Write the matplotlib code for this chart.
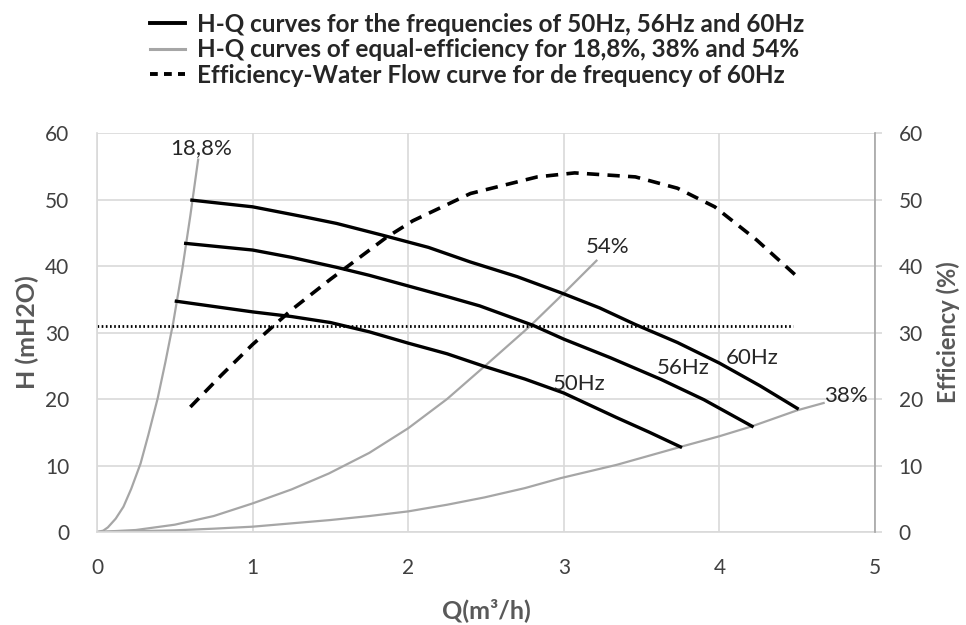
import matplotlib.pyplot as plt
from matplotlib.lines import Line2D

# H-Q curves (black) for the three frequencies
q_50 = [0.51, 1.0, 1.25, 1.5, 1.75, 2.0, 2.25, 2.49, 2.75, 3.0, 3.34, 3.55, 3.75]
h_50 = [34.7, 33.1, 32.4, 31.5, 30.1, 28.4, 26.8, 24.9, 23.0, 20.9, 17.2, 15.0, 12.8]
q_56 = [0.57, 1.0, 1.25, 1.54, 1.75, 2.0, 2.25, 2.46, 2.8, 3.0, 3.3, 3.62, 3.9, 4.21]
h_56 = [43.4, 42.4, 41.3, 39.8, 38.6, 37.0, 35.4, 34.0, 31.1, 29.0, 26.2, 23.0, 19.9, 15.9]
q_60 = [0.61, 1.0, 1.33, 1.54, 1.84, 2.13, 2.4, 2.7, 2.99, 3.23, 3.46, 3.73, 4.0, 4.26, 4.5]
h_60 = [49.9, 48.9, 47.4, 46.4, 44.6, 42.8, 40.6, 38.4, 35.9, 33.7, 31.2, 28.5, 25.4, 22.0, 18.6]

# equal-efficiency curves (grey)
q_188 = [0, 0.04, 0.07, 0.12, 0.17, 0.22, 0.28, 0.33, 0.39, 0.44, 0.49, 0.55, 0.6, 0.65]
h_188 = [0, 0.2, 0.7, 2.0, 3.8, 6.5, 10.3, 14.6, 20.1, 25.6, 31.5, 39.8, 47.6, 56.0]
q_54 = [0, 0.25, 0.5, 0.75, 1.0, 1.25, 1.49, 1.75, 2.0, 2.25, 2.49, 2.78, 3.0, 3.21]
h_54 = [0, 0.3, 1.1, 2.4, 4.3, 6.4, 8.8, 11.9, 15.6, 20.0, 24.9, 30.9, 35.9, 40.8]
q_38 = [0, 0.5, 0.75, 1.0, 1.25, 1.5, 1.75, 2.0, 2.25, 2.49, 2.75, 2.98, 3.34, 3.75, 4.0, 4.21, 4.5, 4.67]
h_38 = [0, 0.25, 0.5, 0.8, 1.3, 1.8, 2.4, 3.1, 4.1, 5.2, 6.6, 8.1, 10.1, 12.8, 14.4, 15.9, 18.3, 19.4]

# efficiency - water flow at 60Hz (dashed)
q_eff = [0.6, 0.8, 1.0, 1.25, 1.5, 1.86, 2.03, 2.4, 2.83, 3.07, 3.46, 3.73, 3.97, 4.24, 4.5]
eff = [18.8, 23.6, 28.2, 33.4, 38.0, 44.3, 46.8, 50.9, 53.4, 54.0, 53.4, 51.7, 48.9, 43.9, 38.4]

# horizontal dotted reference line
q_ref = [0, 4.47]
h_ref = [31, 31]

plt.rcParams['font.family'] = ['Lato', 'DejaVu Sans']

fig = plt.figure(figsize=(9.66, 6.25), dpi=100)
ax = fig.add_axes([97/966, 93/625, 778/966, 399/625])

grid_c = '#d9d9d9'
grey = '#a6a6a6'
txt_c = '#404040'

ax.plot(q_188, h_188, color=grey, lw=1.6)
ax.plot(q_54, h_54, color=grey, lw=1.6)
ax.plot(q_38, h_38, color=grey, lw=1.6)
ax.plot(q_50, h_50, color='black', lw=2.4)
ax.plot(q_56, h_56, color='black', lw=2.4)
ax.plot(q_60, h_60, color='black', lw=2.4)
ax.plot(q_eff, eff, color='black', lw=2.6, dashes=(3.4, 2.3))
ax.plot(q_ref, h_ref, color='black', lw=2.0, linestyle=(0, (0.6, 0.9)))

ax.set_xlim(0, 5)
ax.set_ylim(0, 60)
ax.set_xticks(range(0, 6))
ax.set_yticks(range(0, 61, 10))
ax.grid(True, color=grid_c, lw=1.2)
ax.set_axisbelow(True)
for s in ['top', 'right']:
    ax.spines[s].set_visible(False)
for s in ['left', 'bottom']:
    ax.spines[s].set_color(grid_c)
    ax.spines[s].set_linewidth(1.2)
ax.tick_params(axis='both', length=0, labelsize=15, labelcolor=txt_c)
ax.tick_params(axis='y', pad=20)
ax.tick_params(axis='x', pad=19)

ax2 = ax.twinx()
ax2.set_ylim(0, 60)
ax2.set_yticks(range(0, 61, 10))
for s in ['top', 'left', 'bottom']:
    ax2.spines[s].set_visible(False)
ax2.spines['right'].set_color(grey)
ax2.spines['right'].set_linewidth(1.2)
ax2.tick_params(axis='y', length=5, width=1.2, color=grid_c, labelsize=15,
                labelcolor=txt_c, pad=12)

ax.set_xlabel('Q(m³/h)', fontsize=18, color='#595959', fontweight='bold', labelpad=14)
ax.set_ylabel('H (mH2O)', fontsize=18, color='#595959', fontweight='bold', labelpad=4)
ax2.set_ylabel('Efficiency (%)', fontsize=17, color='#595959', fontweight='bold', labelpad=10)

lab = dict(fontsize=16, color='#262626', ha='center', va='center')
ax.text(0.67, 57.8, '18,8%', **lab)
ax.text(3.28, 42.9, '54%', **lab)
ax.text(4.81, 20.4, '38%', **lab)
ax.text(3.1, 22.3, '50Hz', **lab)
ax.text(3.77, 24.6, '56Hz', **lab)
ax.text(4.21, 26.2, '60Hz', **lab)

handles = [
    Line2D([], [], color='black', lw=2.8),
    Line2D([], [], color=grey, lw=2.2),
    Line2D([], [], color='black', lw=2.8, dashes=(2.0, 1.6)),
]
labels = [
    'H-Q curves for the frequencies of 50Hz, 56Hz and 60Hz',
    'H-Q curves of equal-efficiency for 18,8%, 38% and 54%',
    'Efficiency-Water Flow curve for de frequency of 60Hz',
]
leg = fig.legend(handles, labels, loc='upper left', bbox_to_anchor=(128/966, 1 + 9/625),
                 frameon=False, handlelength=1.45, handletextpad=0.5,
                 labelspacing=0.1, prop={'weight': 'bold', 'size': 17.5})
for t in leg.get_texts():
    t.set_color('#262626')

fig.savefig('out.png', dpi=100)
